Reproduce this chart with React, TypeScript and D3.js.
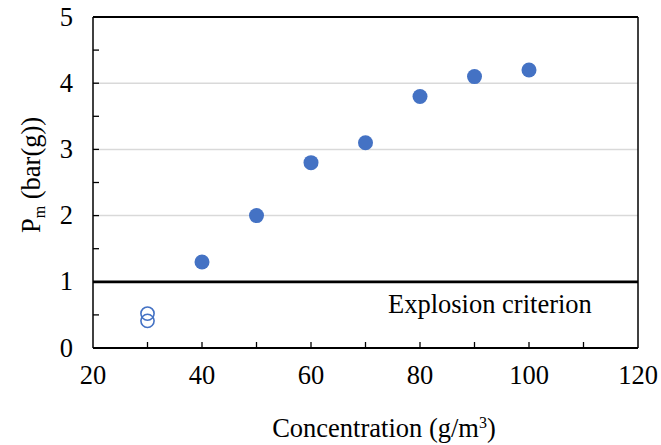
import React from "react";
import * as d3 from "d3";

const filledX = [40, 50, 60, 70, 80, 90, 100];
const filledY = [1.3, 2.0, 2.8, 3.1, 3.8, 4.1, 4.2];
const openX = [30, 30];
const openY = [0.52, 0.41];
const xTicks = [20, 40, 60, 80, 100, 120];
const xMinorTicks = [30, 40, 50, 60, 70, 80, 90, 100, 110];
const yTicks = [0, 1, 2, 3, 4, 5];
const yMinorTicks = [0.5, 1, 1.5, 2, 2.5, 3, 3.5, 4, 4.5];
const gridY = [2, 3, 4];
const criterion = 1;

const W = 661, H = 445;
const L = 93, R = 638, T = 17, B = 348;
const font = "'Liberation Serif', 'Times New Roman', serif";
const blue = "#4472C4";
const FS = 26.5;

export default function App() {
  const x = d3.scaleLinear().domain([20, 120]).range([L, R]);
  const y = d3.scaleLinear().domain([0, 5]).range([B, T]);
  return (
    <svg width={W} height={H} style={{ position: "absolute", left: 0, top: 0 }} fontFamily={font}>
      <rect width={W} height={H} fill="#fff" />
      {gridY.map((v) => (
        <line key={v} x1={L} x2={R} y1={y(v)} y2={y(v)} stroke="#d9d9d9" strokeWidth={1.5} />
      ))}
      {xMinorTicks.map((v) => (
        <line key={v} x1={x(v)} x2={x(v)} y1={B} y2={B - 6} stroke="#000" strokeWidth={1.3} />
      ))}
      {yMinorTicks.map((v) => (
        <line key={v} x1={L} x2={L + 6} y1={y(v)} y2={y(v)} stroke="#000" strokeWidth={1.3} />
      ))}
      <line x1={L} x2={R} y1={T} y2={T} stroke="#000" strokeWidth={2} />
      <line x1={R} x2={R} y1={T} y2={B} stroke="#000" strokeWidth={1.5} />
      <line x1={L} x2={L} y1={T} y2={B} stroke="#000" strokeWidth={1.5} />
      <line x1={L} x2={R} y1={B} y2={B} stroke="#000" strokeWidth={2} />
      <line x1={L} x2={R} y1={y(criterion)} y2={y(criterion)} stroke="#000" strokeWidth={2.7} />
      <text x={388} y={313} fontSize={FS}>Explosion criterion</text>
      {filledX.map((v, i) => (
        <circle key={i} cx={x(v)} cy={y(filledY[i])} r={7.5} fill={blue} />
      ))}
      {openX.map((v, i) => (
        <circle key={i} cx={x(v)} cy={y(openY[i])} r={6.6} fill="none" stroke={blue} strokeWidth={1.6} />
      ))}
      {xTicks.map((v) => (
        <text key={v} x={x(v)} y={384} fontSize={FS} textAnchor="middle">{v}</text>
      ))}
      {yTicks.map((v) => (
        <text key={v} x={73} y={y(v) + 8.5} fontSize={FS} textAnchor="end">{v}</text>
      ))}
      <text x={384} y={437} fontSize={FS} textAnchor="middle">
        Concentration (g/m<tspan dy={-9} fontSize={16}>3</tspan><tspan dy={9}>)</tspan>
      </text>
      <text transform={`translate(40,175) rotate(-90)`} fontSize={FS} textAnchor="middle">
        P<tspan dy={5} fontSize={16}>m</tspan><tspan dy={-5}> (bar(g))</tspan>
      </text>
    </svg>
  );
}
